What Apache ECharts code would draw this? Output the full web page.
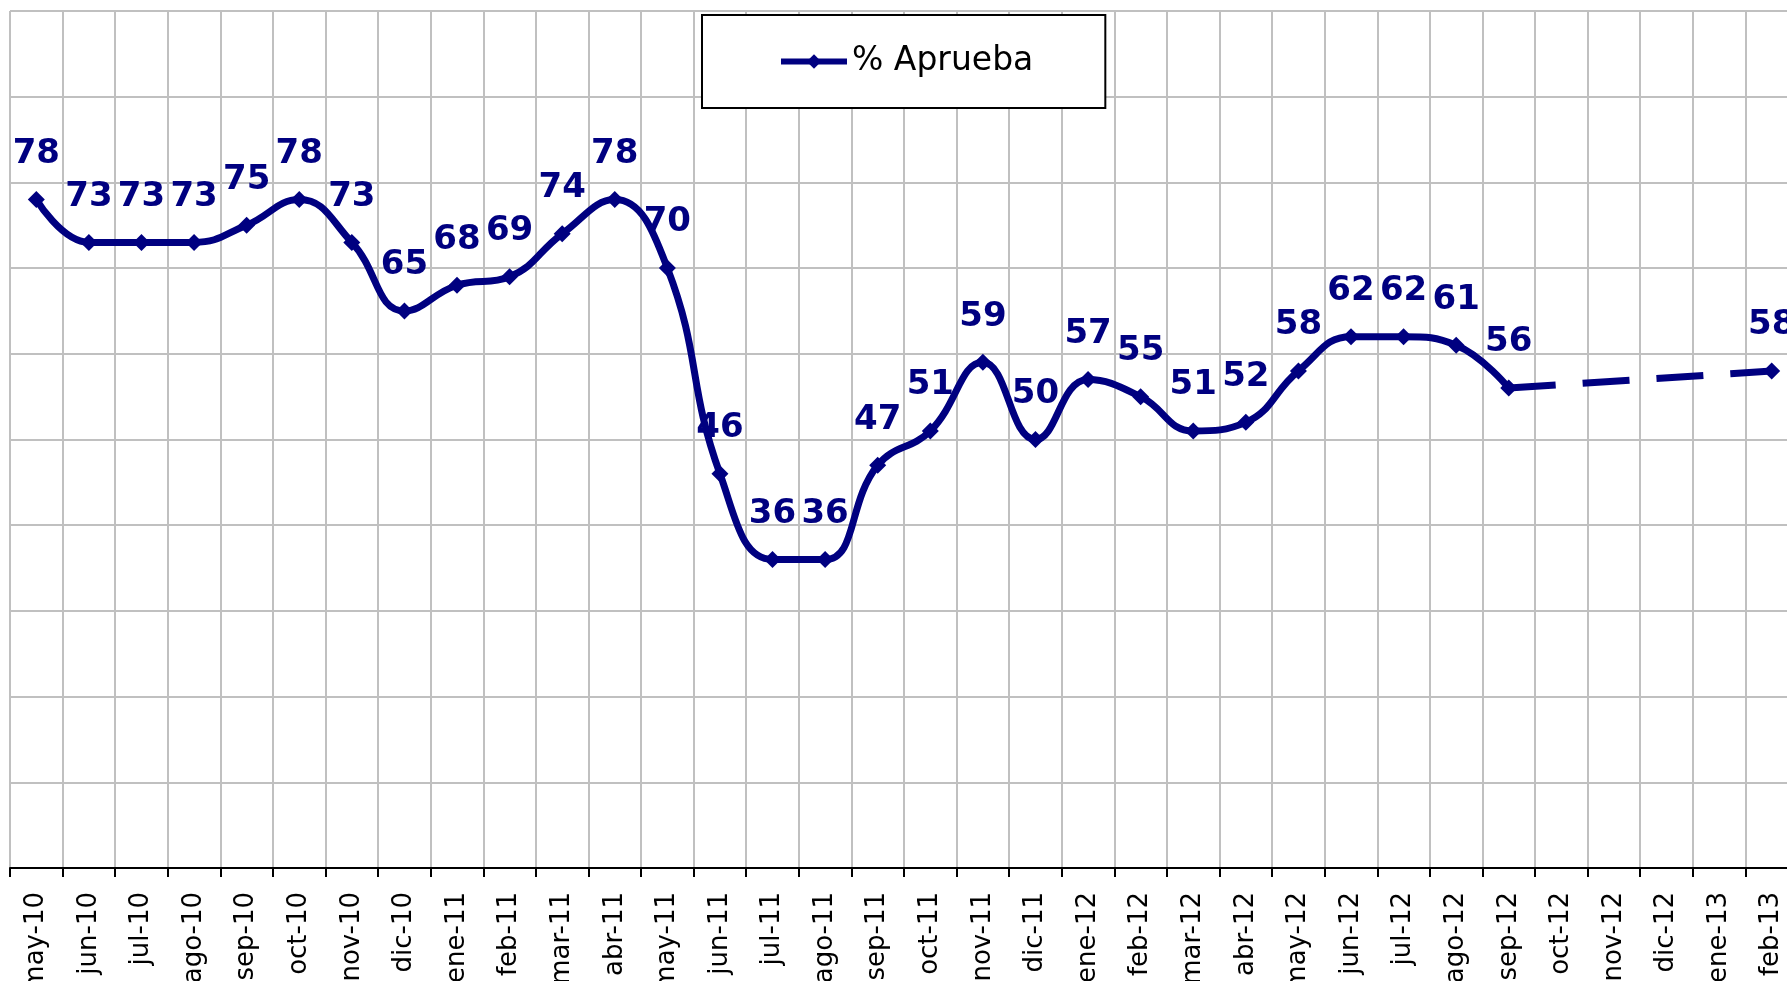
<!DOCTYPE html>
<html>
<head>
<meta charset="utf-8">
<script src="https://cdn.jsdelivr.net/npm/echarts@6/dist/echarts.min.js"></script>
<style>
  html, body { margin: 0; padding: 0; background: #fff; }
  #chart { width: 1787px; height: 981px; }
</style>
</head>
<body>
<div id="chart"></div>
<script>
// meses (eje x)
var months = ['may-10', 'jun-10', 'jul-10', 'ago-10', 'sep-10', 'oct-10', 'nov-10', 'dic-10',
    'ene-11', 'feb-11', 'mar-11', 'abr-11', 'may-11', 'jun-11', 'jul-11', 'ago-11', 'sep-11', 'oct-11', 'nov-11', 'dic-11',
    'ene-12', 'feb-12', 'mar-12', 'abr-12', 'may-12', 'jun-12', 'jul-12', 'ago-12', 'sep-12', 'oct-12', 'nov-12', 'dic-12',
    'ene-13', 'feb-13'];

// % Aprueba (sin dato oct-12 .. ene-13)
var aprueba = [78, 73, 73, 73, 75, 78, 73, 65,
    68, 69, 74, 78, 70, 46, 36, 36, 47, 51, 59, 50,
    57, 55, 51, 52, 58, 62, 62, 61, 56, null, null, null,
    null, 58];

// tramo punteado entre sep-12 y feb-13
var tramo = [null, null, null, null, null, null, null, null,
    null, null, null, null, null, null, null, null, null, null, null, null,
    null, null, null, null, null, null, null, null, 56, null, null, null,
    null, 58];

var navy = '#000080';
var gridGray = '#c0c0c0';

var chart = echarts.init(document.getElementById('chart'));
var option = {
    animation: false,
    backgroundColor: '#fff',
    grid: {
        left: 10,
        right: -11,
        top: 11,
        bottom: 113,
        containLabel: false,
        outerBoundsMode: 'none'
    },
    legend: {
        data: ['% Aprueba'],
        left: 702,
        top: 15,
        padding: [30, 72, 30, 76],
        backgroundColor: '#fff',
        borderColor: '#000',
        borderWidth: 2,
        itemWidth: 66,
        itemHeight: 18,
        lineStyle: { width: 6 },
        textStyle: {
            fontFamily: 'DejaVu Sans',
            fontSize: 33,
            color: '#000'
        }
    },
    xAxis: {
        type: 'category',
        data: months,
        boundaryGap: true,
        axisLine: { lineStyle: { color: '#000', width: 2 } },
        axisTick: { show: true, interval: 0, length: 9, lineStyle: { color: '#000', width: 2 } },
        axisLabel: {
            interval: 0,
            rotate: 90,
            margin: 24,
            fontFamily: 'DejaVu Sans',
            fontSize: 26,
            color: '#000'
        },
        splitLine: { show: true, interval: 0, lineStyle: { color: gridGray, width: 2 } }
    },
    yAxis: {
        type: 'value',
        min: 0,
        max: 100,
        interval: 10,
        axisLine: { show: false },
        axisTick: { show: false },
        axisLabel: { show: false },
        splitLine: { lineStyle: { color: gridGray, width: 2 } }
    },
    series: [
        {
            name: 'tramo',
            type: 'line',
            data: tramo,
            connectNulls: true,
            showSymbol: false,
            silent: true,
            lineStyle: { color: navy, width: 7, type: [47, 27] },
            z: 2
        },
        {
            name: '% Aprueba',
            type: 'line',
            data: aprueba,
            smooth: 0.45,
            connectNulls: false,
            symbol: 'diamond',
            symbolSize: 17,
            itemStyle: { color: navy },
            lineStyle: { color: navy, width: 7 },
            label: {
                show: true,
                position: 'top',
                distance: 20,
                fontFamily: 'DejaVu Sans',
                fontWeight: 'bold',
                fontSize: 34,
                color: navy
            },
            z: 3
        }
    ]
};

option && chart.setOption(option);
</script>
</body>
</html>
